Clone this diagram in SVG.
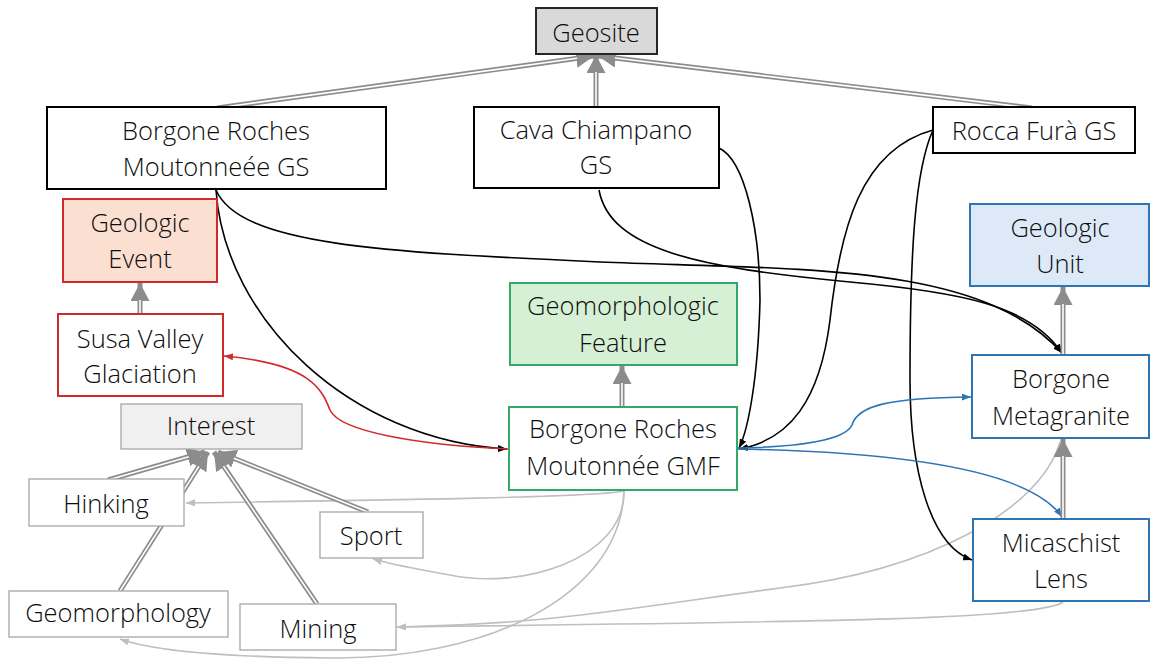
<svg xmlns="http://www.w3.org/2000/svg" width="1152" height="659" viewBox="0 0 1152 659">
  <style>
    text { font-family: "Open Sans", "Noto Sans", "Liberation Sans", sans-serif; font-size: 25.5px; font-weight: 300; fill: #0d0d0d; text-anchor: middle; }
    .box { stroke-width: 2; }
    .plain { fill: #ffffff; stroke: #000000; }
    .grey { fill: #d9d9d9; stroke: #262626; }
    .light { fill: #ffffff; stroke: #a6a6a6; stroke-width: 1.3; }
    .interest { fill: #f0f0f0; stroke: #a6a6a6; stroke-width: 1.3; }
    .red { fill: #ffffff; stroke: #d02b2b; }
    .redfill { fill: #fbe0d2; stroke: #d02b2b; }
    .green { fill: #ffffff; stroke: #33a867; }
    .greenfill { fill: #d6f0d6; stroke: #33a867; }
    .blue { fill: #ffffff; stroke: #2e75b6; }
    .bluefill { fill: #dde9f6; stroke: #2e75b6; }
    .gen-outer { stroke: #8c8c8c; stroke-width: 5; fill: none; marker-end: url(#gen); }
    .gen-inner { stroke: #ffffff; stroke-width: 1.6; fill: none; }
    .link { fill: none; stroke: #000000; stroke-width: 1.6; marker-end: url(#blk); }
    .link-red { fill: none; stroke: #d02b2b; stroke-width: 1.6; marker-end: url(#red); }
    .link-blue { fill: none; stroke: #2e75b6; stroke-width: 1.6; marker-end: url(#blu); }
    .link-grey { fill: none; stroke: #bfbfbf; stroke-width: 1.6; marker-end: url(#gry); }
  </style>
  <defs>
    <marker id="gen" markerUnits="userSpaceOnUse" viewBox="0 0 18 19" refX="18" refY="9.5" markerWidth="18" markerHeight="19" orient="auto">
      <path d="M0,0 L18,9.5 L0,19 z" fill="#8c8c8c"/>
    </marker>
    <marker id="blk" markerUnits="userSpaceOnUse" viewBox="0 0 9 7" refX="9" refY="3.5" markerWidth="9" markerHeight="7" orient="auto">
      <path d="M0,0 L9,3.5 L0,7 z" fill="#000000"/>
    </marker>
    <marker id="red" markerUnits="userSpaceOnUse" viewBox="0 0 9 7" refX="9" refY="3.5" markerWidth="9" markerHeight="7" orient="auto">
      <path d="M0,0 L9,3.5 L0,7 z" fill="#d02b2b"/>
    </marker>
    <marker id="blu" markerUnits="userSpaceOnUse" viewBox="0 0 9 7" refX="9" refY="3.5" markerWidth="9" markerHeight="7" orient="auto">
      <path d="M0,0 L9,3.5 L0,7 z" fill="#2e75b6"/>
    </marker>
    <marker id="gry" markerUnits="userSpaceOnUse" viewBox="0 0 9 7" refX="9" refY="3.5" markerWidth="9" markerHeight="7" orient="auto">
      <path d="M0,0 L9,3.5 L0,7 z" fill="#bfbfbf"/>
    </marker>
  </defs>

  <!-- connectors -->
  <g id="connectors">
    <!-- light grey links out of the GMF and rock units -->
    <path class="link-grey" d="M624,491 C600,497 400,500 186,503"/>
    <path class="link-grey" d="M624,491 C625,560 520,590 450,575 C410,568 390,564 373,559"/>
    <path class="link-grey" d="M624,491 C620,600 480,660 330,658 C220,657 150,650 120,639"/>
    <path class="link-grey" d="M1063,602 C1040,620 800,622 397,627"/>
    <path class="link-grey" d="M1060,442 C1040,510 930,570 780,588 C650,605 550,625 397,627"/>

    <!-- black links from the geosites -->
    <path class="link" d="M216,190 C225,320 350,440 507,449"/>
    <path class="link" d="M216,190 C240,245 380,252 600,262 C800,270 980,262 1062,353"/>
    <path class="link" d="M599,190 C610,250 700,268 850,282 C960,292 1030,305 1062,353"/>
    <path class="link" d="M719,148 C745,160 760,230 760,300 C758,380 748,430 739,448"/>
    <path class="link" d="M933,130 C860,150 840,230 830,320 C820,400 790,440 739,449"/>
    <path class="link" d="M933,130 C915,170 910,250 910,380 C910,470 930,545 972,560"/>

    <!-- red link to the glaciation -->
    <path class="link-red" d="M508,449 C420,445 340,432 330,410 C322,390 312,364 224,356"/>

    <!-- blue links to rock units -->
    <path class="link-blue" d="M738,448 C800,447 845,440 852,425 C858,405 890,398 971,397"/>
    <path class="link-blue" d="M738,449 C900,452 1030,470 1062,517"/>

    <!-- generalisation arrows (double line) -->
    <path class="gen-outer" d="M140,314 L140,283"/>
    <path class="gen-inner" d="M140,314 L140,300"/>
    <path class="gen-outer" d="M622,407 L622,366"/>
    <path class="gen-inner" d="M622,407 L622,383"/>
    <path class="gen-outer" d="M1063,355 L1063,287"/>
    <path class="gen-inner" d="M1063,355 L1063,304"/>
    <path class="gen-outer" d="M1063,519 L1063,439"/>
    <path class="gen-inner" d="M1063,519 L1063,456"/>

    <path class="gen-outer" d="M596,107 L596,55"/>
    <path class="gen-inner" d="M596,107 L596,72"/>
    <path class="gen-outer" d="M217,108 L594,56"/>
    <path class="gen-inner" d="M217,108 L577.2,58.3"/>
    <path class="gen-outer" d="M1032,108 L598,56"/>
    <path class="gen-inner" d="M1032,108 L614.9,58"/>

    <path class="gen-outer" d="M108,480 L205,452"/>
    <path class="gen-inner" d="M108,480 L188.7,456.7"/>
    <path class="gen-outer" d="M120,591 L208,452"/>
    <path class="gen-inner" d="M120,591 L198.9,466.4"/>
    <path class="gen-outer" d="M317,604 L214,452"/>
    <path class="gen-inner" d="M317,604 L223.5,466.1"/>
    <path class="gen-outer" d="M368,512 L218,452"/>
    <path class="gen-inner" d="M368,512 L233.8,458.3"/>
  </g>

  <!-- nodes -->
  <g id="geosite">
    <rect class="box grey" x="536" y="8" width="121" height="46"/>
    <text x="596" y="42">Geosite</text>
  </g>
  <g id="borgone-gs">
    <rect class="box plain" x="47" y="107" width="339" height="82"/>
    <text x="216" y="140">Borgone Roches</text>
    <text x="216" y="176">Moutonneée GS</text>
  </g>
  <g id="cava-chiampano">
    <rect class="box plain" x="474" y="107" width="245" height="81"/>
    <text x="596" y="139">Cava Chiampano</text>
    <text x="596" y="174">GS</text>
  </g>
  <g id="rocca-fura">
    <rect class="box plain" x="933" y="107" width="202" height="46"/>
    <text x="1034" y="140">Rocca Furà GS</text>
  </g>
  <g id="geologic-event">
    <rect class="box redfill" x="63" y="199" width="154" height="83"/>
    <text x="140" y="232">Geologic</text>
    <text x="140" y="268">Event</text>
  </g>
  <g id="susa-valley">
    <rect class="box red" x="58" y="314" width="165" height="82"/>
    <text x="140" y="348">Susa Valley</text>
    <text x="140" y="383">Glaciation</text>
  </g>
  <g id="interest">
    <rect class="interest" x="121" y="404" width="181" height="45"/>
    <text x="211" y="435">Interest</text>
  </g>
  <g id="hinking">
    <rect class="light" x="29" y="479" width="155" height="47"/>
    <text x="106" y="513">Hinking</text>
  </g>
  <g id="sport">
    <rect class="light" x="320" y="512" width="103" height="46"/>
    <text x="371" y="545">Sport</text>
  </g>
  <g id="geomorphology">
    <rect class="light" x="9" y="591" width="219" height="46"/>
    <text x="118" y="622">Geomorphology</text>
  </g>
  <g id="mining">
    <rect class="light" x="240" y="604" width="156" height="46"/>
    <text x="318" y="638">Mining</text>
  </g>
  <g id="geomorphologic-feature">
    <rect class="box greenfill" x="510" y="283" width="227" height="82"/>
    <text x="623" y="315">Geomorphologic</text>
    <text x="623" y="352">Feature</text>
  </g>
  <g id="borgone-gmf">
    <rect class="box green" x="509" y="407" width="228" height="83"/>
    <text x="623" y="438">Borgone Roches</text>
    <text x="623" y="475">Moutonnée GMF</text>
  </g>
  <g id="geologic-unit">
    <rect class="box bluefill" x="970" y="204" width="179" height="82"/>
    <text x="1060" y="237">Geologic</text>
    <text x="1060" y="273">Unit</text>
  </g>
  <g id="borgone-metagranite">
    <rect class="box blue" x="972" y="355" width="177" height="83"/>
    <text x="1061" y="388">Borgone</text>
    <text x="1061" y="425">Metagranite</text>
  </g>
  <g id="micaschist-lens">
    <rect class="box blue" x="973" y="519" width="176" height="82"/>
    <text x="1061" y="552">Micaschist</text>
    <text x="1061" y="588">Lens</text>
  </g>
</svg>
